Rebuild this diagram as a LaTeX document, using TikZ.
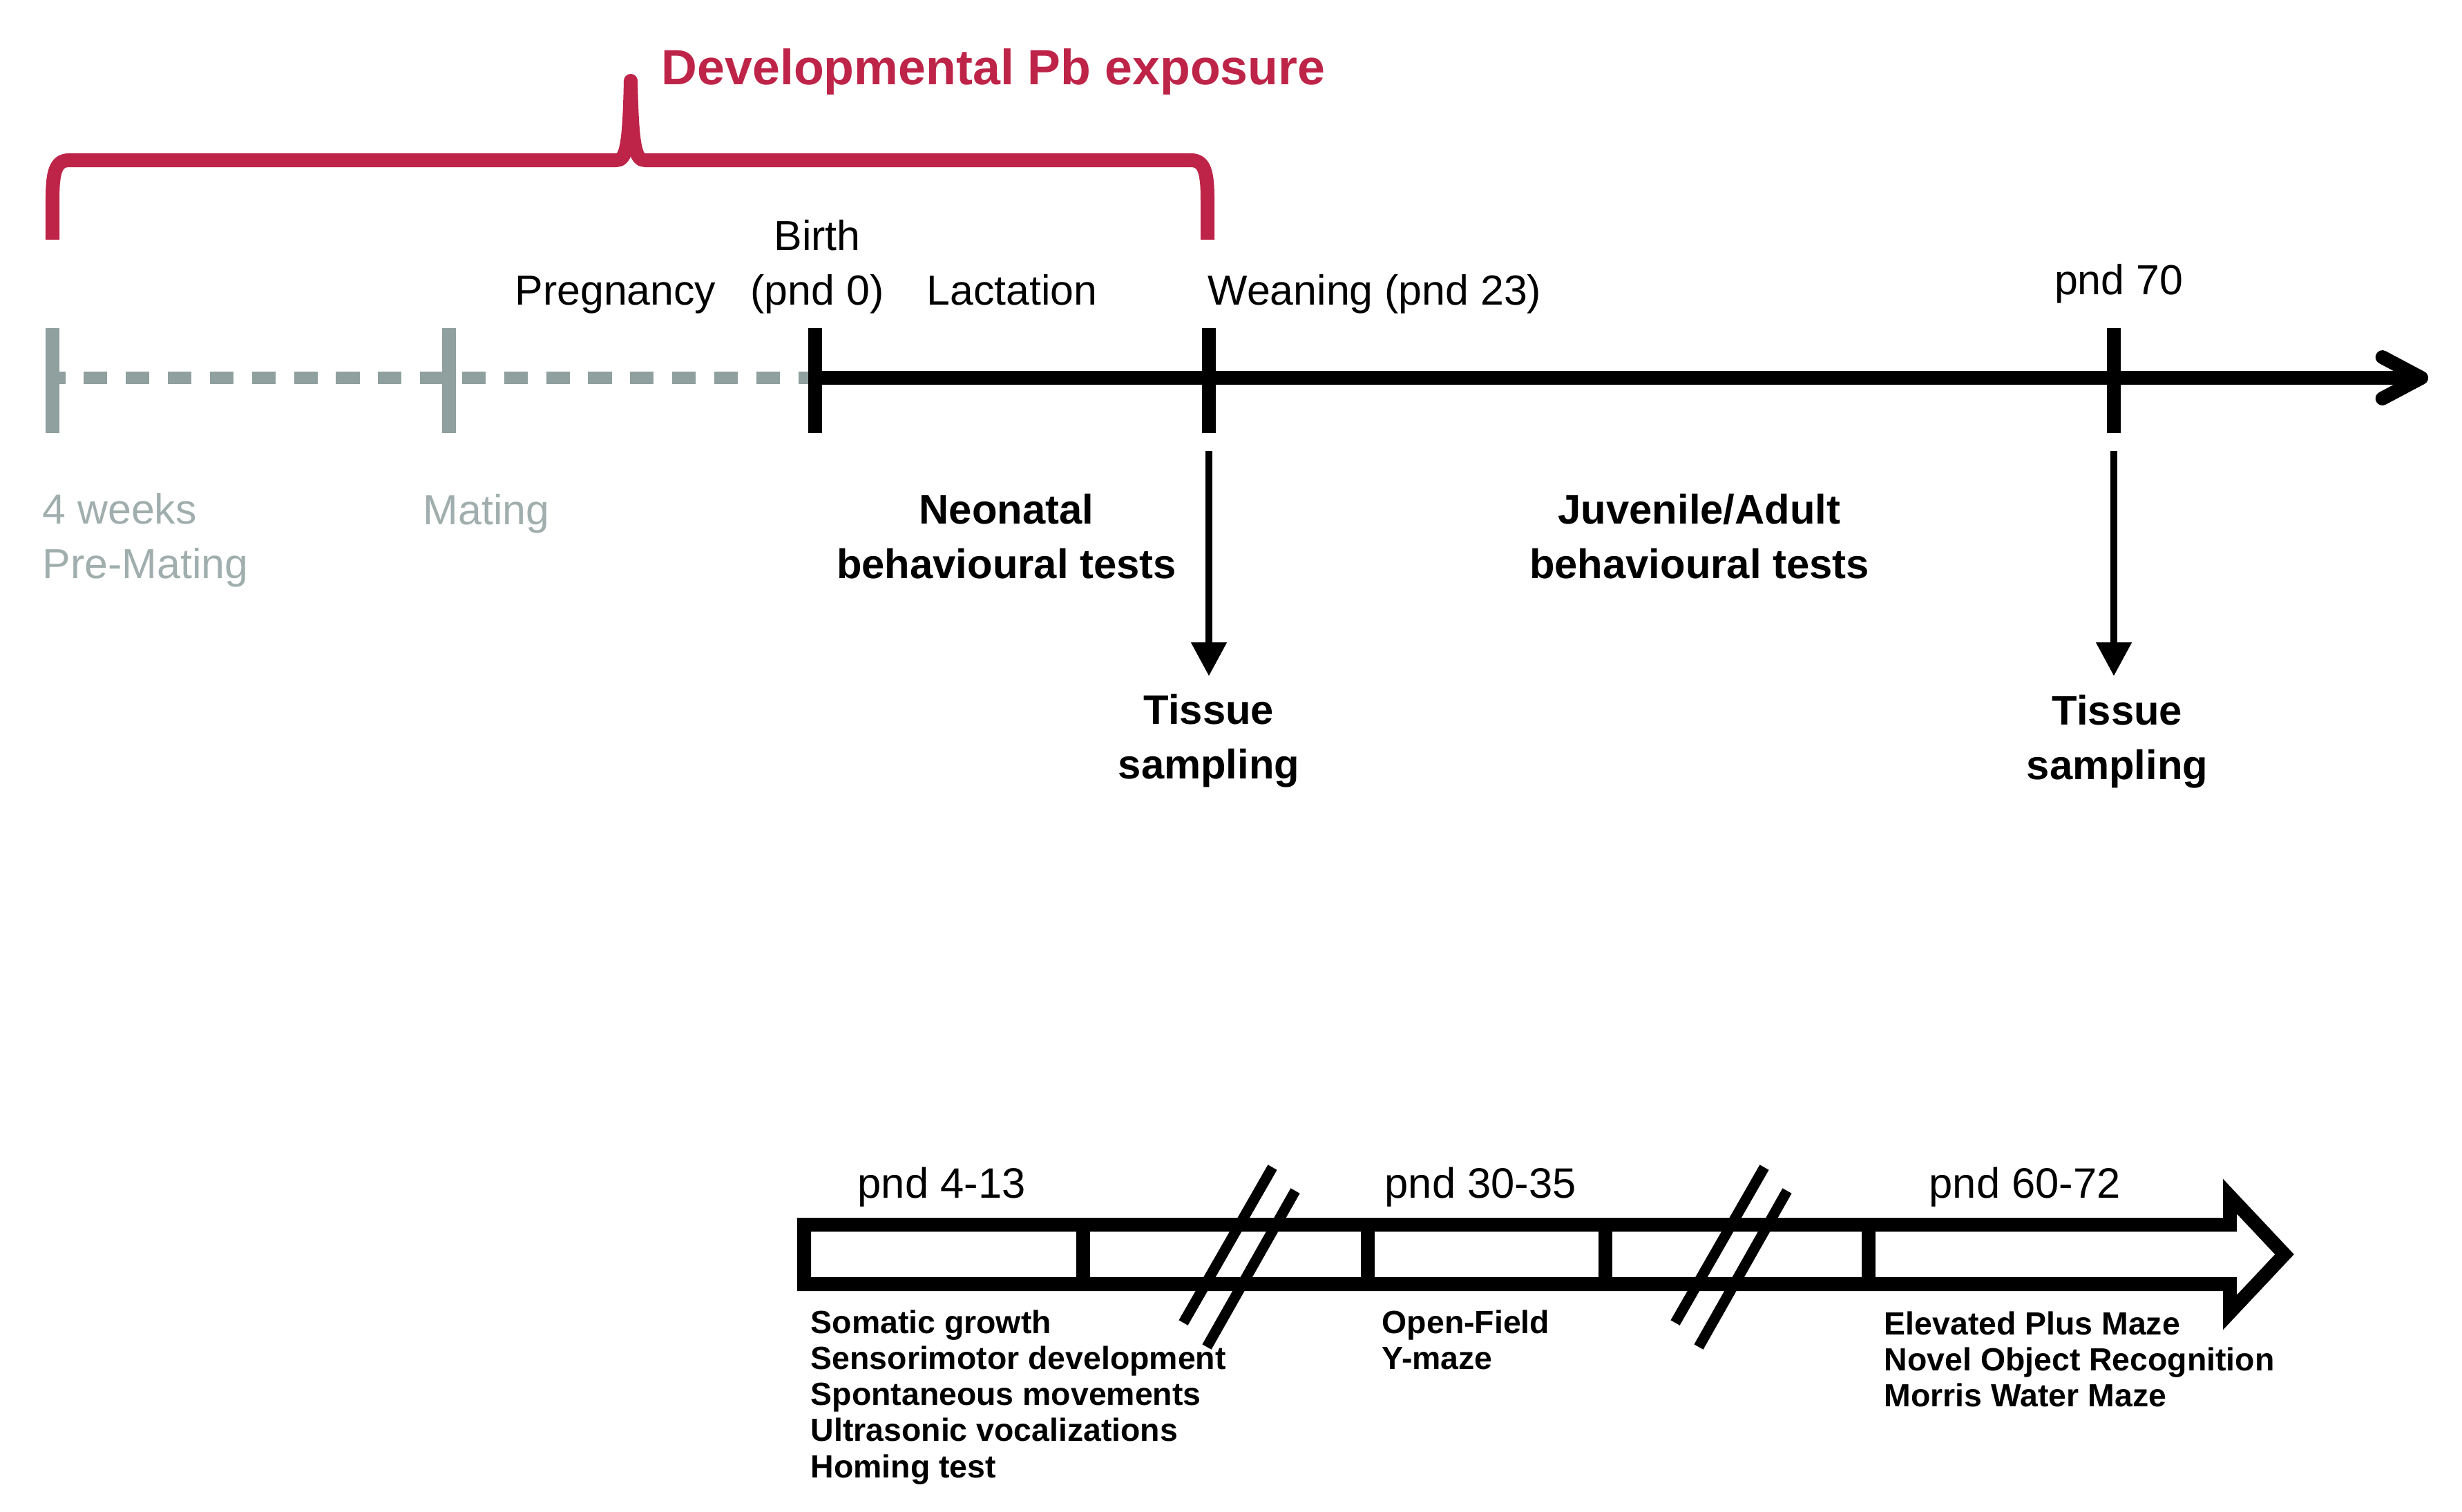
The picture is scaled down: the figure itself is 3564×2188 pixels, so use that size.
\documentclass[tikz,border=0pt]{standalone}
\usepackage{fontspec}
\setmainfont{Liberation Sans}
\usetikzlibrary{arrows.meta}
\definecolor{pbred}{RGB}{190,36,72}
\definecolor{pregrey}{RGB}{143,160,158}

\begin{document}
\begin{tikzpicture}[x=0.01cm, y=-0.01cm,
	grey tick/.style={draw=pregrey, line width=5.7pt},
	black tick/.style={draw=black, line width=5.7pt},
	time label/.style={inner sep=0pt, font=\fontsize{17.3}{22.2}\selectfont},
	grey label/.style={time label, text=pregrey!85, align=left, anchor=base west},
	bold label/.style={inner sep=0pt, align=center, anchor=base, font=\fontsize{17}{22.2}\selectfont\bfseries},
	period label/.style={inner sep=0pt, anchor=base west, font=\fontsize{17.5}{21}\selectfont},
	test item/.style={inner sep=0pt, anchor=base west, font=\fontsize{13.2}{14.7}\selectfont\bfseries},
	sample arrow/.style={line width=3.1pt, -{Triangle[length=14pt, width=14pt]}}]

	\useasboundingbox (0,0) rectangle (3564,2188);

	% exposure bracket
	\node[anchor=base west, inner sep=0pt, text=pbred, font=\fontsize{20.4}{24}\selectfont\bfseries] (expo) at (957,123) {Developmental Pb exposure};
	\draw[pbred, line width=5.7pt, line join=round] (76,347) -- (76,290) .. controls (76,250) and (80,232) .. (100,232) -- (892,232) .. controls (906,232) and (911,215) .. (913,117) .. controls (915,215) and (920,232) .. (934,232) -- (1724,232) .. controls (1744,232) and (1748,250) .. (1748,290) -- (1748,347);

	% time axis
	\coordinate (pre) at (76,547);
	\coordinate (mate) at (650,547);
	\coordinate (birth) at (1180,547);
	\coordinate (wean) at (1750,547);
	\coordinate (p70) at (3060,547);
	\coordinate (end) at (3515,547);
	\draw[pregrey, line width=5.2pt, dash pattern=on 9.7pt off 7.6pt, dash phase=4.4pt] (pre) -- (birth);
	\draw[line width=5.7pt, -{Straight Barb[length=16pt, width=17pt, round]}] (birth) -- (end);
	\foreach \t in {pre, mate}{
		\draw[grey tick] (\t) ++(0,-72) -- ++(0,152);
	}
	\foreach \t in {birth, wean, p70}{
		\draw[black tick] (\t) ++(0,-72) -- ++(0,152);
	}

	\node[time label, anchor=base] (preg) at (891,441) {Pregnancy};
	\node[time label, anchor=base, align=center] (birthlbl) at (1183,441) {Birth\\(pnd 0)};
	\node[time label, anchor=base] (lact) at (1465,441) {Lactation};
	\node[time label, anchor=base west] (weanlbl) at (1748,441) {Weaning (pnd 23)};
	\node[time label, anchor=base] (p70lbl) at (3067,426) {pnd 70};
	\node[grey label] (prelbl) at (61,837) {4 weeks\\Pre-Mating};
	\node[grey label] (matelbl) at (612,759) {Mating};
	\node[bold label] (neo) at (1457,837) {Neonatal\\behavioural tests};
	\node[bold label] (juv) at (2460,837) {Juvenile/Adult\\behavioural tests};

	% tissue sampling
	\coordinate (w1) at (1750,653);
	\coordinate (w1tip) at (1750,979);
	\coordinate (p1) at (3060,653);
	\coordinate (p1tip) at (3060,979);
	\draw[sample arrow] (w1) -- (w1tip);
	\draw[sample arrow] (p1) -- (p1tip);
	\node[bold label] (tis1) at (1750,1127) {Tissue\\sampling};
	\node[bold label] (tis2) at (3065,1128) {Tissue\\sampling};

	% test schedule
	\draw[line width=5.7pt, miter limit=10] (1164,1773) -- (3228,1773) -- (3228,1732) -- (3307,1816) -- (3228,1900) -- (3228,1859) -- (1164,1859) -- cycle;
	\foreach \x in {1568,1980,2324,2705}{
		\draw[line width=5.7pt] (\x,1773) -- (\x,1859);
	}
	\foreach \x in {0,712}{
		\draw[line width=4.3pt] (1842+\x,1690) -- (1713+\x,1915);
		\draw[line width=4.3pt] (1875+\x,1724) -- (1747+\x,1950);
	}
	\node[period label] (per1) at (1241,1734) {pnd 4-13};
	\node[period label] (per2) at (2004,1734) {pnd 30-35};
	\node[period label] (per3) at (2792,1734) {pnd 60-72};
	\foreach \t [count=\i from 0] in {Somatic growth, Sensorimotor development, Spontaneous movements, Ultrasonic vocalizations, Homing test}{
		\node[test item] (neo\i) at (1173,1930+52.3*\i) {\t};
	}
	\foreach \t [count=\i from 0] in {Open-Field, Y-maze}{
		\node[test item] (juv\i) at (2000,1930+52.3*\i) {\t};
	}
	\foreach \t [count=\i from 0] in {Elevated Plus Maze, Novel Object Recognition, Morris Water Maze}{
		\node[test item] (adu\i) at (2727,1932+52.3*\i) {\t};
	}
\end{tikzpicture}
\end{document}
